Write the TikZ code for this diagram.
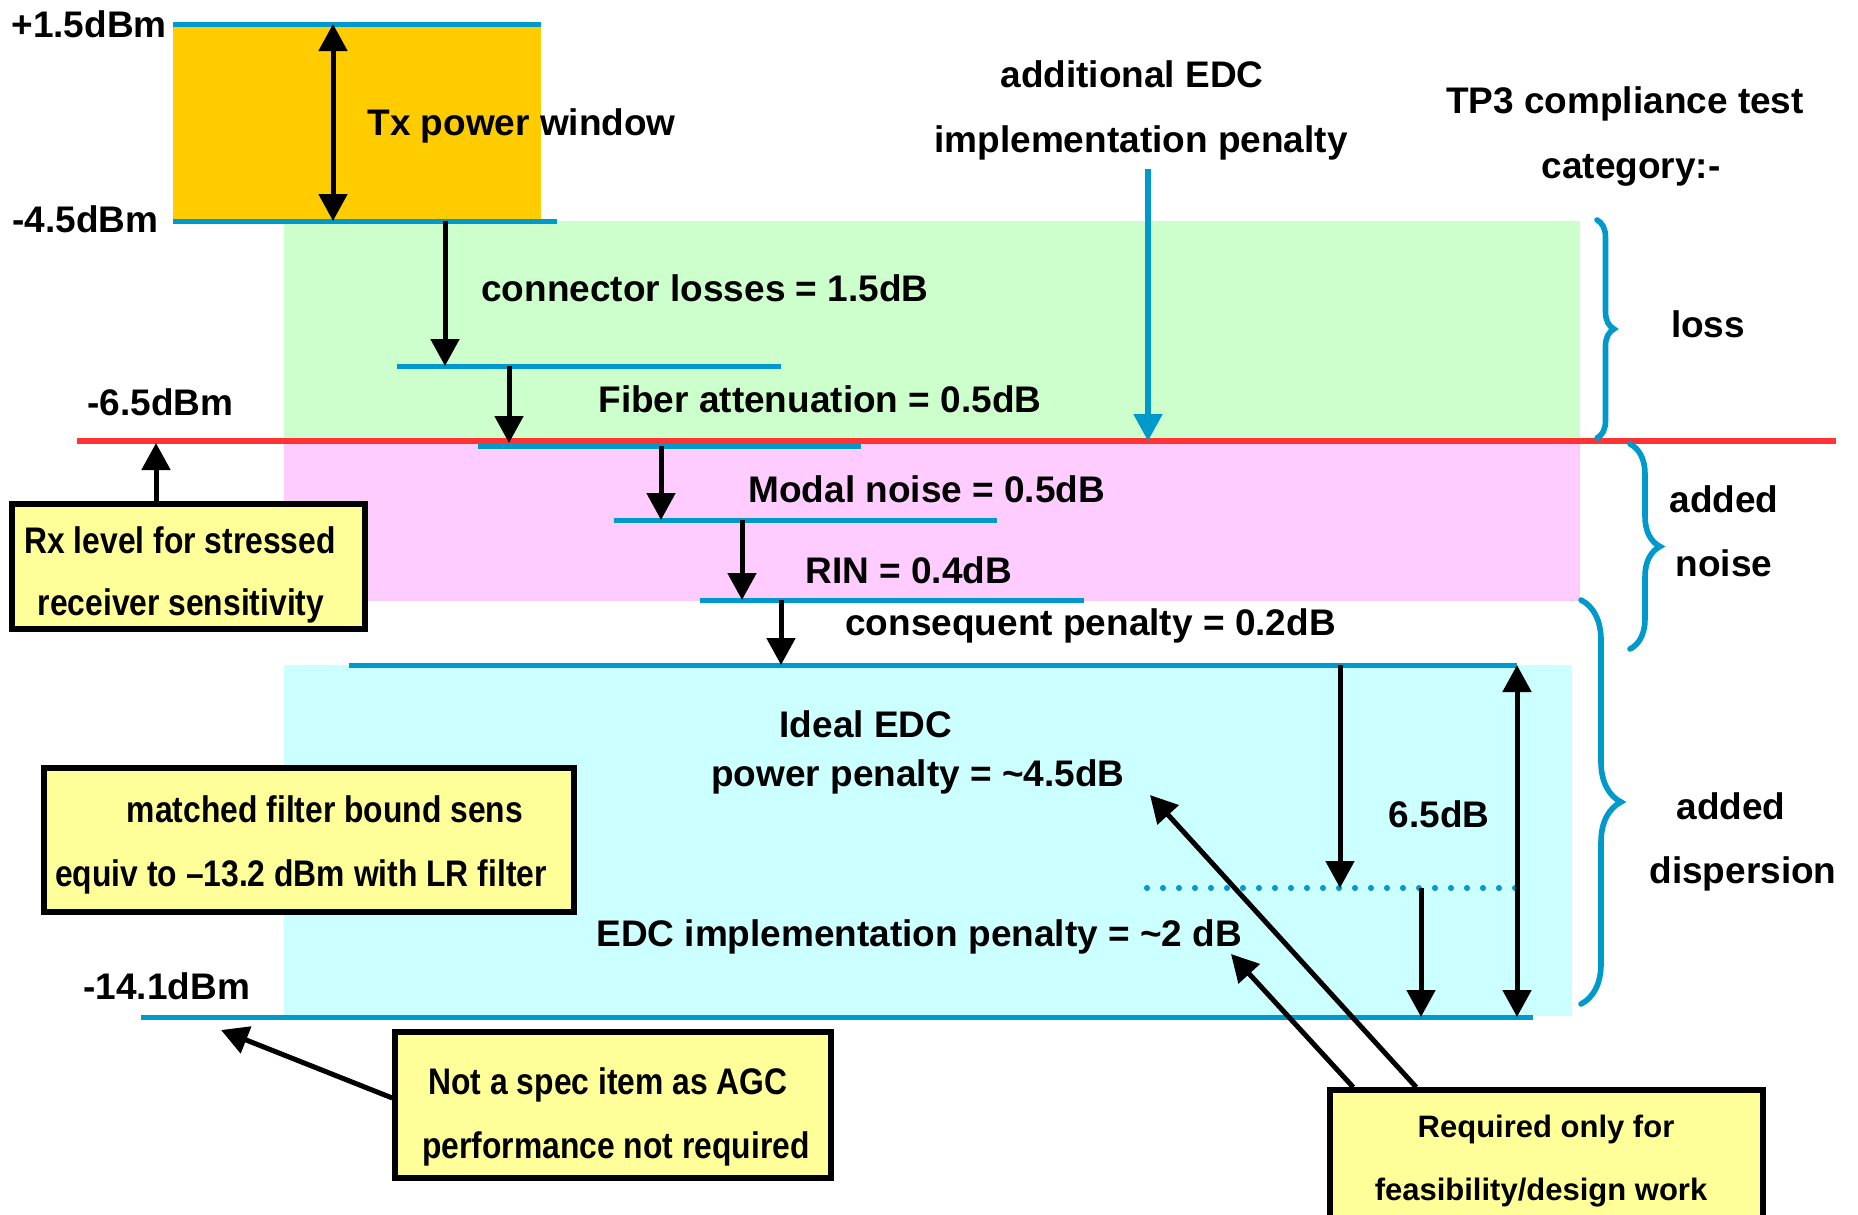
\documentclass[tikz,border=0pt]{standalone}
\usepackage{fontspec}
\setmainfont{Liberation Sans}
\newfontfamily\narrowf[FakeStretch=0.86]{Liberation Sans}
\usetikzlibrary{arrows.meta,decorations.pathreplacing,fit}
\definecolor{lvlblue}{HTML}{0099CC}
\definecolor{redl}{HTML}{FF3333}
\definecolor{orangeb}{HTML}{FFCC00}
\definecolor{greenb}{HTML}{CCFFCC}
\definecolor{pinkb}{HTML}{FFCCFF}
\definecolor{cyanb}{HTML}{CCFFFF}
\definecolor{yellowb}{HTML}{FFFF99}
\begin{document}
\begin{tikzpicture}[x=0.5pt,y=-0.5pt,
 txt/.style={inner sep=0pt, font=\fontsize{18.5}{22}\selectfont\bfseries},
 ntxt/.style={inner sep=0pt, font=\narrowf\fontsize{18.5}{22}\selectfont\bfseries},
 rtxt/.style={inner sep=0pt, font=\fontsize{15.5}{19}\selectfont\bfseries},
 lvl/.style={draw=lvlblue, line width=2.5pt},
 arr/.style={line width=2.5pt, -{Triangle[length=13.5pt,width=14pt]}},
 darr/.style={line width=2.5pt, {Triangle[length=13.5pt,width=14pt]}-{Triangle[length=13.5pt,width=14pt]}},
 barr/.style={color=lvlblue, line width=2.7pt, -{Triangle[length=13.5pt,width=14pt]}},
 ybox/.style={draw=black, line width=2.7pt, fill=yellowb, inner sep=0pt},
 brc/.style={draw=lvlblue, line width=2.8pt, line cap=round, decorate, decoration={brace, amplitude=#1}},
]
\useasboundingbox (0,0) rectangle (1858,1215);
\fill[white] (0,0) rectangle (1858,1215);

% coloured bands
\fill[orangeb] (173,24) rectangle (541,221);
\fill[greenb] (284,221) rectangle (1580,441);
\fill[pinkb] (284,441) rectangle (1580,601);
\fill[cyanb] (284,665) rectangle (1572,1016);

% level lines
\draw[lvl] (173,24) -- (541,24);
\draw[lvl] (173,221) -- (557,221);
\draw[lvl] (397,366) -- (781,366);
\draw[lvl] (478,446) -- (861,446);
\draw[lvl] (614,520) -- (997,520);
\draw[lvl] (700,600) -- (1084,600);
\draw[lvl] (349,665) -- (1517,665);
\draw[lvl] (141,1017) -- (1533,1017);
\draw[redl, line width=2.7pt] (77,441) -- (1836,441);
\draw[lvlblue, line width=3pt, line cap=round, dash pattern=on 0pt off 8pt] (1147,888) -- (1522,888);

% braces
\draw[brc=8.5pt] (1597,220) -- (1597,438);
\draw[brc=15pt] (1630,444) -- (1630,649);
\draw[brc=20pt] (1581,600) -- (1581,1004);

% coordinates for arrows
\coordinate (tx1) at (333,24);
\coordinate (tx2) at (333,221);
\coordinate (cl1) at (445,221);
\coordinate (cl2) at (445,366);
\coordinate (fa1) at (509,366);
\coordinate (fa2) at (509,443);
\coordinate (mn1) at (661,446);
\coordinate (mn2) at (661,520);
\coordinate (rn1) at (742,520);
\coordinate (rn2) at (742,600);
\coordinate (cp1) at (781,600);
\coordinate (cp2) at (781,665);
\coordinate (ie1) at (1340,665);
\coordinate (ie2) at (1340,888);
\coordinate (ip1) at (1421,888);
\coordinate (ip2) at (1421,1017);
\coordinate (to1) at (1517,665);
\coordinate (to2) at (1517,1017);
\coordinate (ed1) at (1148,169);
\coordinate (ed2) at (1148,441);
\coordinate (rxa) at (156,443);
\coordinate (agcT) at (221,1030);
\coordinate (reqA) at (1231,954);
\coordinate (reqB) at (1150,795);

\draw[darr] (tx1) -- (tx2);
\draw[arr] (cl1) -- (cl2);
\draw[arr] (fa1) -- (fa2);
\draw[arr] (mn1) -- (mn2);
\draw[arr] (rn1) -- (rn2);
\draw[arr] (cp1) -- (cp2);
\draw[arr] (ie1) -- (ie2);
\draw[arr] (ip1) -- (ip2);
\draw[darr] (to1) -- (to2);
\draw[barr] (ed1) -- (ed2);

% boxes
\node[ybox, fit={(12,504) (365,629)}] (rx) {};
\node[ybox, fit={(44,768) (574,912)}] (mf) {};
\node[ybox, fit={(395,1032) (831,1178)}] (agc) {};
\node[ybox, fit={(1330,1090) (1763,1240)}] (req) {};

\node[ntxt, anchor=base] (rx1) at (180,553) {Rx level for stressed};
\node[ntxt, anchor=base] (rx2) at (181,615) {receiver sensitivity};
\node[ntxt, anchor=base] (mf1) at (325,822) {matched filter bound sens};
\node[ntxt, anchor=base] (mf2) at (301,886) {equiv to –13.2 dBm with LR filter};
\node[ntxt, anchor=base] (agc1) at (608,1094) {Not a spec item as AGC};
\node[ntxt, anchor=base] (agc2) at (616,1158) {performance not required};
\node[rtxt, anchor=base] (req1) at (1546,1137) {Required only for};
\node[rtxt, anchor=base] (req2) at (1541,1200) {feasibility/design work};

\draw[arr] (rx.north -| rxa) -- (rxa);
\draw[arr] ([yshift=3.5pt]agc.west) -- (agcT);
\draw[arr] ([xshift=13pt]req.north west) -- (reqA);
\draw[arr] ([xshift=44.5pt]req.north west) -- (reqB);

% level labels
\node[txt, anchor=base west] (p15) at (11,37) {+1.5dBm};
\node[txt, anchor=base west] (m45) at (12,232) {-4.5dBm};
\node[txt, anchor=base west] (m65) at (87,415) {-6.5dBm};
\node[txt, anchor=base west] (m141) at (83,999) {-14.1dBm};

% other labels
\node[txt, anchor=base west] (txw) at (367,135) {Tx power window};
\node[txt, anchor=base west] (conl) at (481,301) {connector losses = 1.5dB};
\node[txt, anchor=base west] (fib) at (598,412) {Fiber attenuation = 0.5dB};
\node[txt, anchor=base west] (mod) at (748,502) {Modal noise = 0.5dB};
\node[txt, anchor=base west] (rin) at (805,583) {RIN = 0.4dB};
\node[txt, anchor=base west] (cons) at (845,635) {consequent penalty = 0.2dB};
\node[txt, anchor=base] (ide1) at (866,737) {Ideal EDC};
\node[txt, anchor=base] (ide2) at (918,786) {power penalty = \textasciitilde4.5dB};
\node[txt, anchor=base] (six) at (1439,827) {6.5dB};
\node[txt, anchor=base west] (impl) at (596,946) {EDC implementation penalty = \textasciitilde2 dB};
\node[txt, anchor=base] (add1) at (1132,87) {additional EDC};
\node[txt, anchor=base] (add2) at (1141,152) {implementation penalty};
\node[txt, anchor=base] (tp1) at (1625,113) {TP3 compliance test};
\node[txt, anchor=base] (tp2) at (1631,178) {category:-};
\node[txt, anchor=base] (loss) at (1708,337) {loss};
\node[txt, anchor=base] (an1) at (1724,512) {added};
\node[txt, anchor=base] (an2) at (1724,576) {noise};
\node[txt, anchor=base] (ad1) at (1731,819) {added};
\node[txt, anchor=base] (ad2) at (1743,883) {dispersion};
\end{tikzpicture}
\end{document}
